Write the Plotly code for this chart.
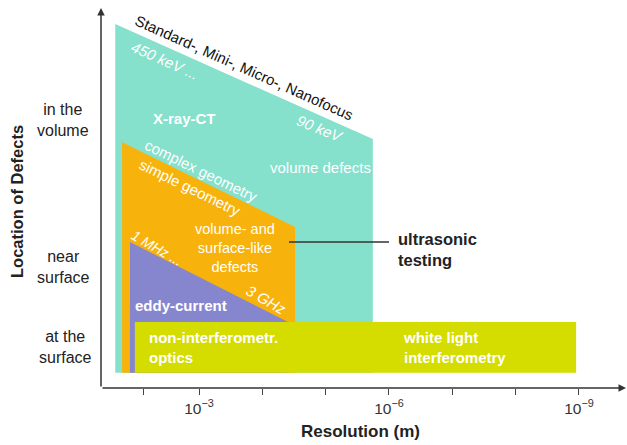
import plotly.graph_objs as go

# resolution (m) and location-of-defects (0 = at the surface ... 100 = deep volume)
xray_res = [2.1e-2, 2.1e-2, 1.8e-6, 1.8e-6]
xray_loc = [4, 95.8, 65.5, 4]
ultra_res = [1.64e-2, 1.64e-2, 3.05e-5, 3.05e-5]
ultra_loc = [4, 64.7, 42.4, 4]
eddy_res = [1.23e-2, 1.23e-2, 3.94e-5, 3.94e-5]
eddy_loc = [4, 38.4, 17.4, 4]
optics_res = [1.03e-2, 1.03e-2, 1.11e-9, 1.11e-9]
optics_loc = [4, 17.4, 17.4, 4]

tick_res = [10 ** -2.12, 1e-3, 1e-4, 1e-5, 1e-6, 1e-7, 1e-8, 1e-9]
tick_text = ["", "10<sup>\u22123</sup>", "", "", "10<sup>\u22126</sup>", "", "", "10<sup>\u22129</sup>"]

W, H = 627, 445
L, T, B = 101, 8, 57
PW, PH = W - L, H - T - B
FONT = "Liberation Sans, Arial, sans-serif"


def P(x, y):
    """pixel position -> paper coords"""
    return (x - L) / PW, (T + PH - y) / PH


def poly(xs, ys, color):
    return go.Scatter(x=xs, y=ys, mode="lines", fill="toself", fillcolor=color,
                      line=dict(width=0, color=color), hoverinfo="skip", showlegend=False)


data = [
    poly(xray_res, xray_loc, "#85E0CC"),
    poly(ultra_res, ultra_loc, "#F8B20C"),
    poly(eddy_res, eddy_loc, "#8686CF"),
    poly(optics_res, optics_loc, "#D4DC00"),
]

annotations = []


def label(text, x, y, size=15, color="white", angle=0, align="center", xanchor="center"):
    px, py = P(x, y)
    annotations.append(dict(text=text, x=px, y=py, xref="paper", yref="paper",
                            showarrow=False, textangle=angle, align=align,
                            xanchor=xanchor, yanchor="middle",
                            font=dict(family=FONT, size=size, color=color)))


label("Standard-, Mini-, Micro-, Nanofocus", 244, 67, 15, "#111", 24)
label("<i>450 keV ...</i>", 165, 61, 15, "white", 24)
label("<i>90 keV</i>", 320, 128, 15, "white", 22)
label("<b>X-ray-CT</b>", 184, 118)
label("volume defects", 320, 167)
label("complex geometry", 201, 170, 15, "white", 26)
label("simple geometry", 190, 187, 15, "white", 26)
label("volume- and<br>surface-like<br>defects", 235, 248, 14.5)
label("<i>1 MHz ...</i>", 157, 248, 14, "white", 30)
label("<i>3 GHz</i>", 266, 299, 15, "white", 30)
label("<b>eddy-current</b>", 181, 305)
label("<b>non-interferometr.<br>optics</b>", 147, 347, align="left", xanchor="left")
label("<b>white light<br>interferometry</b>", 401, 347, align="left", xanchor="left")
label("<b>ultrasonic<br>testing</b>", 396, 249, 16.5, "#222", align="left", xanchor="left")
label("in the<br>volume", 63, 120, 16, "#222")
label("near<br>surface", 63, 267, 16, "#222")
label("at the<br>surface", 65, 347, 16, "#222")
label("<b>Location of Defects</b>", 17, 202, 16.5, "#222", -90)
label("<b>Resolution (m)</b>", 360, 432, 17, "#222")

# axis arrows
annotations.append(dict(x=0, y=1, xref="paper", yref="paper", ax=0, ay=PH, text="",
                        showarrow=True, arrowhead=2, arrowsize=1, arrowwidth=1.5,
                        arrowcolor="#333"))
annotations.append(dict(x=1, y=0, xref="paper", yref="paper", ax=-PW, ay=0, text="",
                        showarrow=True, arrowhead=2, arrowsize=1, arrowwidth=1.5,
                        arrowcolor="#333"))

x0, y0 = P(289, 242)
x1, y1 = P(389, 242)
shapes = [dict(type="line", xref="paper", yref="paper", x0=x0, y0=y0, x1=x1, y1=y1,
               line=dict(color="#333", width=1.3))]

e_left = 3 - (199 - L) / 63.33
e_right = 3 + (W - 199) / 63.33
layout = go.Layout(
    width=W, height=H,
    margin=dict(l=L, r=0, t=T, b=B),
    paper_bgcolor="white", plot_bgcolor="white",
    showlegend=False,
    xaxis=dict(type="log", range=[-e_left, -e_right], showgrid=False, zeroline=False,
               showline=False, ticks="outside", ticklen=6, tickwidth=1.2, tickcolor="#444",
               tickvals=tick_res, ticktext=tick_text,
               tickfont=dict(family=FONT, size=15.5, color="#333")),
    yaxis=dict(range=[0, 100], showgrid=False, zeroline=False, showline=False,
               showticklabels=False, ticks=""),
    annotations=annotations,
    shapes=shapes,
)

fig = go.Figure(data=data, layout=layout)
fig.write_html("out.html", config={"displayModeBar": False},
               post_script="document.body.style.margin='0';document.body.style.overflow='hidden';")
